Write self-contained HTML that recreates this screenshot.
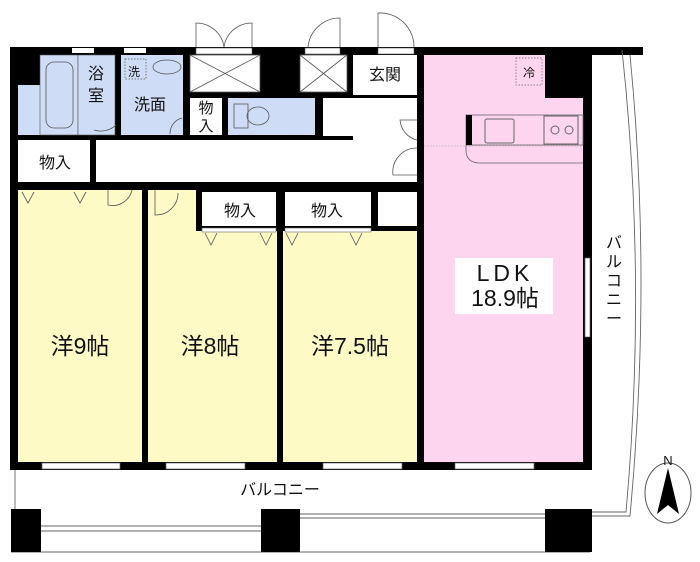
<!DOCTYPE html>
<html><head><meta charset="utf-8"><style>
html,body{margin:0;padding:0;background:#fff;}
svg{display:block;}
text{font-family:"Liberation Sans","Noto Sans CJK JP",sans-serif;fill:#111;}
</style></head><body>
<svg width="700" height="562" viewBox="0 0 700 562" xmlns="http://www.w3.org/2000/svg">
<rect x="10" y="47" width="633" height="8" fill="#000"/>
<rect x="10" y="47" width="8" height="423" fill="#000"/>
<rect x="10" y="462" width="582" height="8" fill="#000"/>
<rect x="583" y="47" width="9" height="423" fill="#000"/>
<rect x="18" y="55" width="400" height="85" fill="#000"/>
<rect x="18" y="182" width="400" height="8" fill="#000"/>
<rect x="417" y="47" width="7" height="423" fill="#000"/>
<rect x="90" y="140" width="6" height="42" fill="#000"/>
<rect x="142" y="182" width="6" height="285" fill="#000"/>
<rect x="277" y="182" width="6" height="285" fill="#000"/>
<rect x="18" y="190" width="124" height="272" fill="#fdfac6"/>
<rect x="148" y="190" width="129" height="272" fill="#fdfac6"/>
<rect x="283" y="190" width="134" height="272" fill="#fdfac6"/>
<rect x="424" y="55" width="159" height="407" fill="#fdd5ef"/>
<rect x="545" y="55" width="38" height="43" fill="#000"/>
<rect x="196" y="190" width="81" height="41" fill="#000"/>
<rect x="202" y="192" width="74" height="34" fill="#fff"/>
<rect x="283" y="190" width="134" height="41" fill="#000"/>
<rect x="285" y="192" width="86" height="34" fill="#fff"/>
<rect x="378" y="192" width="39" height="34" fill="#fff"/>
<rect x="202" y="228" width="74" height="4" fill="#fff" stroke="#666" stroke-width=".6"/>
<rect x="285" y="228" width="86" height="4" fill="#fff" stroke="#666" stroke-width=".6"/>
<rect x="18" y="140" width="72" height="42" fill="#fff"/>
<rect x="96" y="140" width="321" height="42" fill="#fff"/>
<rect x="323" y="98" width="30" height="38" fill="#fff"/>
<rect x="353" y="98" width="64" height="42" fill="#fff"/>
<rect x="353" y="55" width="64" height="40" fill="#fff"/>
<rect x="18" y="85" width="22" height="50" fill="#cfdcf5"/>
<rect x="40" y="55" width="38" height="80" fill="#cfdcf5" stroke="#555" stroke-width=".6"/>
<rect x="46" y="62" width="27" height="66" rx="8" fill="none" stroke="#555" stroke-width=".8"/>
<rect x="78" y="55" width="37" height="80" fill="#cfdcf5" stroke="#555" stroke-width=".6"/>
<rect x="121" y="55" width="62" height="80" fill="#cfdcf5"/>
<rect x="190" y="98" width="32" height="37" fill="#fff"/>
<rect x="228" y="98" width="87" height="37" fill="#cfdcf5"/>
<rect x="234" y="104" width="14" height="24" fill="none" stroke="#555" stroke-width=".8"/>
<ellipse cx="258" cy="116" rx="11" ry="9" fill="none" stroke="#555" stroke-width=".8"/>
<ellipse cx="167" cy="67" rx="14" ry="7" fill="none" stroke="#555" stroke-width=".8"/>
<rect x="125" y="59" width="21" height="20" fill="none" stroke="#555" stroke-width=".7" stroke-dasharray="1.5,1.5"/>
<g fill="#fff" stroke="#555" stroke-width=".8">
<rect x="190" y="55" width="70" height="37"/>
<line x1="190" y1="55" x2="260" y2="92"/><line x1="260" y1="55" x2="190" y2="92"/>
<rect x="300" y="55" width="47" height="37"/>
<line x1="300" y1="55" x2="347" y2="92"/><line x1="347" y1="55" x2="300" y2="92"/>
</g>
<g fill="none" stroke="#555" stroke-width=".8">
<path d="M196 47 V23 A28 28 0 0 1 224 47"/><path d="M252 47 V23 A28 28 0 0 0 224 47"/>
<path d="M340 47 V18 A32 32 0 0 0 308 47"/>
<path d="M378 47 V13 A34 34 0 0 1 414 47"/>
<path d="M417 120 H400 A22 22 0 0 0 417 140"/><path d="M417 148 A24 24 0 0 0 393 175 H417"/>
<path d="M116 125 A22 22 0 0 1 94 130"/>
<path d="M182 118 A16 16 0 0 0 170 134"/>
<path d="M108 190 V205 A20 20 0 0 0 132 190"/>
<path d="M155 190 V215 A22 22 0 0 0 178 193"/>
</g>
<rect x="72" y="48" width="22" height="5" fill="#fff"/>
<rect x="124" y="48" width="22" height="5" fill="#fff"/>
<rect x="196" y="48" width="56" height="6" fill="#fff" stroke="#555" stroke-width=".6"/>
<rect x="305" y="48" width="35" height="6" fill="#fff" stroke="#555" stroke-width=".6"/>
<rect x="378" y="48" width="36" height="6" fill="#fff" stroke="#555" stroke-width=".6"/>
<g fill="none" stroke="#555" stroke-width=".8">
<path d="M22 192 L28 203 L34 192"/><path d="M74 192 L80 203 L86 192"/>
<path d="M205 233 L211 245 L217 233"/><path d="M260 233 L266 245 L272 233"/>
<path d="M286 233 L292 245 L298 233"/><path d="M350 233 L356 245 L362 233"/>
</g>
<g fill="#fff" stroke="#666" stroke-width=".7">
<rect x="42" y="463" width="78" height="6"/><rect x="166" y="463" width="79" height="6"/>
<rect x="323" y="463" width="79" height="6"/><rect x="455" y="463" width="79" height="6"/>
<rect x="585" y="258" width="5" height="79"/>
</g>
<rect x="466" y="115" width="117" height="30" fill="none" stroke="#666" stroke-width=".8"/>
<rect x="466" y="115" width="6" height="30" fill="#000"/>
<rect x="485" y="119" width="29" height="24" rx="2" fill="none" stroke="#666"/>
<rect x="544" y="116" width="34" height="28" fill="none" stroke="#666"/>
<circle cx="555" cy="130" r="4" fill="none" stroke="#666"/><circle cx="569" cy="130" r="4" fill="none" stroke="#666"/>
<path d="M466 145 V150 Q466 163 480 163 H583" fill="none" stroke="#666" stroke-width=".8"/>
<line x1="424" y1="146" x2="583" y2="146" stroke="#999" stroke-dasharray="1.5,1.5" stroke-width=".6"/>
<rect x="516" y="58" width="26" height="27" fill="none" stroke="#666" stroke-dasharray="1.5,1.5" stroke-width=".7"/>
<g fill="none" stroke="#666" stroke-width=".9">
<path d="M15 470 V509"/>
<path d="M41 526 H261 M41 531 H261"/>
<path d="M300 514 H545 M300 518 H545"/>
<path d="M11 552 H590"/>
<path d="M592 512 H626 Q647 280 622 50"/><path d="M592 516 H630 Q652 280 630 55"/>
</g>
<rect x="11" y="509" width="30" height="43" fill="#000"/>
<rect x="261" y="509" width="39" height="43" fill="#000"/>
<rect x="545" y="509" width="47" height="43" fill="#000"/>
<ellipse cx="668" cy="493" rx="23" ry="30" fill="#fff" stroke="#555"/>
<path d="M668 468 L657 514 L668 505 L679 514 Z" fill="#000"/>
<text x="668" y="465" font-size="13" text-anchor="middle">N</text>
<g font-size="16" text-anchor="middle">
<text x="96" y="79">浴</text><text x="96" y="101">室</text>
<text x="150" y="110">洗面</text>
<text x="206" y="113" font-size="15">物</text><text x="206" y="131" font-size="15">入</text>
<text x="385" y="80">玄関</text>
<text x="55" y="168">物入</text>
<text x="240" y="216">物入</text>
<text x="327" y="216">物入</text>
<text x="134" y="76" font-size="12">洗</text>
<text x="529" y="77" font-size="12">冷</text>
<text x="280" y="495">バルコニー</text>
</g>
<g font-size="16" text-anchor="middle">
<text x="614" y="248">バ</text><text x="614" y="267">ル</text><text x="614" y="286">コ</text><text x="614" y="305">ニ</text><text x="614" y="324">ー</text>
</g>
<rect x="455" y="258" width="98" height="56" fill="#fff"/>
<g font-size="23" text-anchor="middle">
<text x="80" y="354">洋9帖</text>
<text x="210" y="354">洋8帖</text>
<text x="350" y="354">洋7.5帖</text>
<text x="505" y="281" letter-spacing="4">LDK</text>
<text x="505" y="306">18.9帖</text>
</g>
</svg>
</body></html>
